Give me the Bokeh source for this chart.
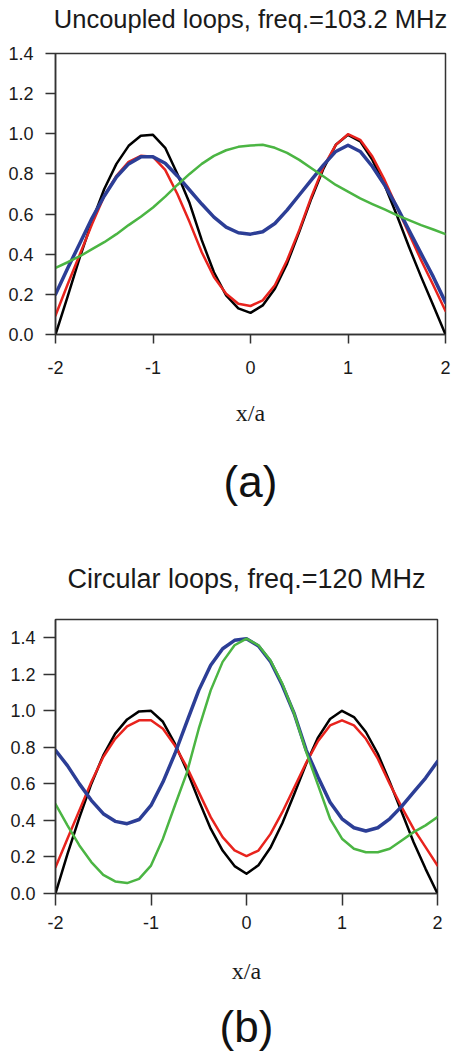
from bokeh.plotting import figure
from bokeh.models import Range1d, FixedTicker, NumeralTickFormatter, LinearAxis
from bokeh.layouts import column
from bokeh.embed import file_html
from bokeh.resources import INLINE

# ---------------- data ----------------
x_vals = [-2, -1.875, -1.75, -1.625, -1.5, -1.375, -1.25, -1.125, -1,
          -0.875, -0.75, -0.625, -0.5, -0.375, -0.25, -0.125, 0,
          0.125, 0.25, 0.375, 0.5, 0.625, 0.75, 0.875, 1,
          1.125, 1.25, 1.375, 1.5, 1.625, 1.75, 1.875, 2]

# panel (a): uncoupled loops, 103.2 MHz
a_black = [0.0, 0.19, 0.385, 0.565, 0.725, 0.85, 0.94, 0.99, 0.995,
           0.93, 0.80, 0.655, 0.47, 0.31, 0.195, 0.13, 0.108,
           0.145, 0.228, 0.353, 0.512, 0.678, 0.828, 0.945, 0.995,
           0.962, 0.87, 0.745, 0.595, 0.437, 0.287, 0.145, 0.0]
a_red = [0.095, 0.25, 0.40, 0.55, 0.69, 0.79, 0.86, 0.89, 0.885,
         0.82, 0.70, 0.56, 0.41, 0.287, 0.203, 0.153, 0.142,
         0.17, 0.245, 0.37, 0.52, 0.687, 0.837, 0.945, 0.998,
         0.97, 0.887, 0.77, 0.637, 0.503, 0.37, 0.245, 0.117]
a_blue = [0.2, 0.33, 0.455, 0.58, 0.69, 0.785, 0.85, 0.885, 0.885,
          0.853, 0.79, 0.72, 0.65, 0.585, 0.535, 0.507, 0.50,
          0.512, 0.553, 0.62, 0.695, 0.77, 0.845, 0.912, 0.943,
          0.912, 0.837, 0.745, 0.637, 0.52, 0.403, 0.287, 0.16]
a_green = [0.332, 0.36, 0.39, 0.425, 0.46, 0.50, 0.545, 0.587, 0.633,
           0.687, 0.745, 0.80, 0.85, 0.89, 0.918, 0.935, 0.942,
           0.945, 0.93, 0.905, 0.87, 0.828, 0.787, 0.745, 0.712,
           0.678, 0.65, 0.623, 0.595, 0.57, 0.545, 0.523, 0.50]

# panel (b): circular loops, 120 MHz
b_black = [0.0, 0.215, 0.415, 0.6, 0.756, 0.875, 0.953, 0.997, 1.0,
           0.94, 0.82, 0.675, 0.51, 0.355, 0.235, 0.15, 0.108,
           0.155, 0.25, 0.385, 0.545, 0.71, 0.855, 0.955, 1.0,
           0.966, 0.884, 0.765, 0.61, 0.446, 0.281, 0.135, 0.0]
b_red = [0.144, 0.30, 0.455, 0.61, 0.747, 0.847, 0.915, 0.948, 0.948,
         0.902, 0.81, 0.692, 0.555, 0.418, 0.309, 0.236, 0.205,
         0.235, 0.325, 0.445, 0.58, 0.715, 0.835, 0.92, 0.948,
         0.92, 0.847, 0.738, 0.60, 0.473, 0.354, 0.254, 0.153]
b_blue = [0.784, 0.70, 0.60, 0.51, 0.437, 0.395, 0.382, 0.405, 0.482,
          0.61, 0.765, 0.94, 1.112, 1.25, 1.34, 1.386, 1.395,
          1.355, 1.271, 1.14, 0.984, 0.785, 0.637, 0.50, 0.409,
          0.36, 0.342, 0.36, 0.409, 0.477, 0.555, 0.632, 0.723]
b_green = [0.49, 0.373, 0.263, 0.172, 0.102, 0.066, 0.057, 0.08, 0.153,
           0.30, 0.482, 0.66, 0.902, 1.112, 1.268, 1.359, 1.395,
           1.359, 1.277, 1.149, 0.984, 0.775, 0.592, 0.409, 0.30,
           0.245, 0.226, 0.226, 0.245, 0.29, 0.336, 0.373, 0.418]

x_ticks = [-2, -1, 0, 1, 2]
y_ticks = [0.0, 0.2, 0.4, 0.6, 0.8, 1.0, 1.2, 1.4]

COLORS = {"black": "#000000", "red": "#e8231d", "blue": "#2c3e96", "green": "#4bb543"}
WIDTHS = {"black": 2.5, "red": 2.5, "blue": 3.5, "green": 2.5}
AX = "#333333"
TXT = "#1a1a1a"


def text_axis(p, side, text, font, size, standoff, color):
    """A tick-less axis used only to carry a line of text (panel title / tag)."""
    ax = LinearAxis(ticker=FixedTicker(ticks=[]), axis_label=text,
                    axis_line_color=None, major_tick_line_color=None,
                    minor_tick_line_color=None, major_tick_in=0, major_tick_out=0,
                    major_label_standoff=0, axis_label_standoff=standoff,
                    axis_label_text_font=font, axis_label_text_font_size=size,
                    axis_label_text_font_style="normal", axis_label_text_color=color)
    p.add_layout(ax, side)


def make_panel(title, title_size, tag, series, y_end, frame_w, frame_h, b_left, b_top,
               b_bottom, title_stand, ytick_out, ystand, xtick_out, xstand,
               xlab_stand, tag_stand):
    p = figure(frame_width=frame_w, frame_height=frame_h,
               min_border_left=b_left, min_border_right=12,
               min_border_top=b_top, min_border_bottom=b_bottom,
               x_range=Range1d(-2, 2), y_range=Range1d(0, y_end),
               output_backend="svg", toolbar_location=None)

    p.grid.visible = False
    p.outline_line_color = AX
    p.outline_line_width = 1.5
    p.background_fill_color = "white"
    p.border_fill_color = "white"

    for ax in (p.xaxis[0], p.yaxis[0]):
        ax.axis_line_color = AX
        ax.axis_line_width = 1.5
        ax.major_tick_line_color = AX
        ax.major_tick_line_width = 1.5
        ax.major_tick_in = 0
        ax.minor_tick_line_color = None
        ax.major_label_text_font = "Liberation Sans"
        ax.major_label_text_font_size = "18px"
        ax.major_label_text_color = TXT

    p.xaxis.ticker = FixedTicker(ticks=x_ticks)
    p.xaxis.formatter = NumeralTickFormatter(format="0")
    p.xaxis.major_tick_out = xtick_out
    p.xaxis.major_label_standoff = xstand
    p.xaxis.axis_label = "x/a"
    p.xaxis.axis_label_text_font = "Liberation Serif"
    p.xaxis.axis_label_text_font_style = "normal"
    p.xaxis.axis_label_text_font_size = "24px"
    p.xaxis.axis_label_text_color = TXT
    p.xaxis.axis_label_standoff = xlab_stand

    p.yaxis.ticker = FixedTicker(ticks=y_ticks)
    p.yaxis.formatter = NumeralTickFormatter(format="0.0")
    p.yaxis.major_tick_out = ytick_out
    p.yaxis.major_label_standoff = ystand

    for name, ys in series:
        p.line(x_vals, ys, line_color=COLORS[name], line_width=WIDTHS[name],
               line_join="round", line_cap="round")

    text_axis(p, "above", title, "Liberation Sans", title_size, title_stand, TXT)
    text_axis(p, "below", tag, "Liberation Sans", "44px", tag_stand, "#111111")
    return p


pa = make_panel("Uncoupled loops, freq.=103.2 MHz", "25.5px", "(a)",
                [("black", a_black), ("red", a_red), ("blue", a_blue), ("green", a_green)],
                1.4, 390, 281, 47, 53, 196, 21,
                10, 12, 9, 17, 23, 28)
pb = make_panel("Circular loops, freq.=120 MHz", "27px", "(b)",
                [("black", b_black), ("red", b_red), ("blue", b_blue), ("green", b_green)],
                1.5, 382, 274, 55, 89, 160, 26,
                12, 8, 12, 10, 26, 15)

layout = column(pa, pb, spacing=0)
open("out.html", "w").write(file_html(layout, INLINE))
